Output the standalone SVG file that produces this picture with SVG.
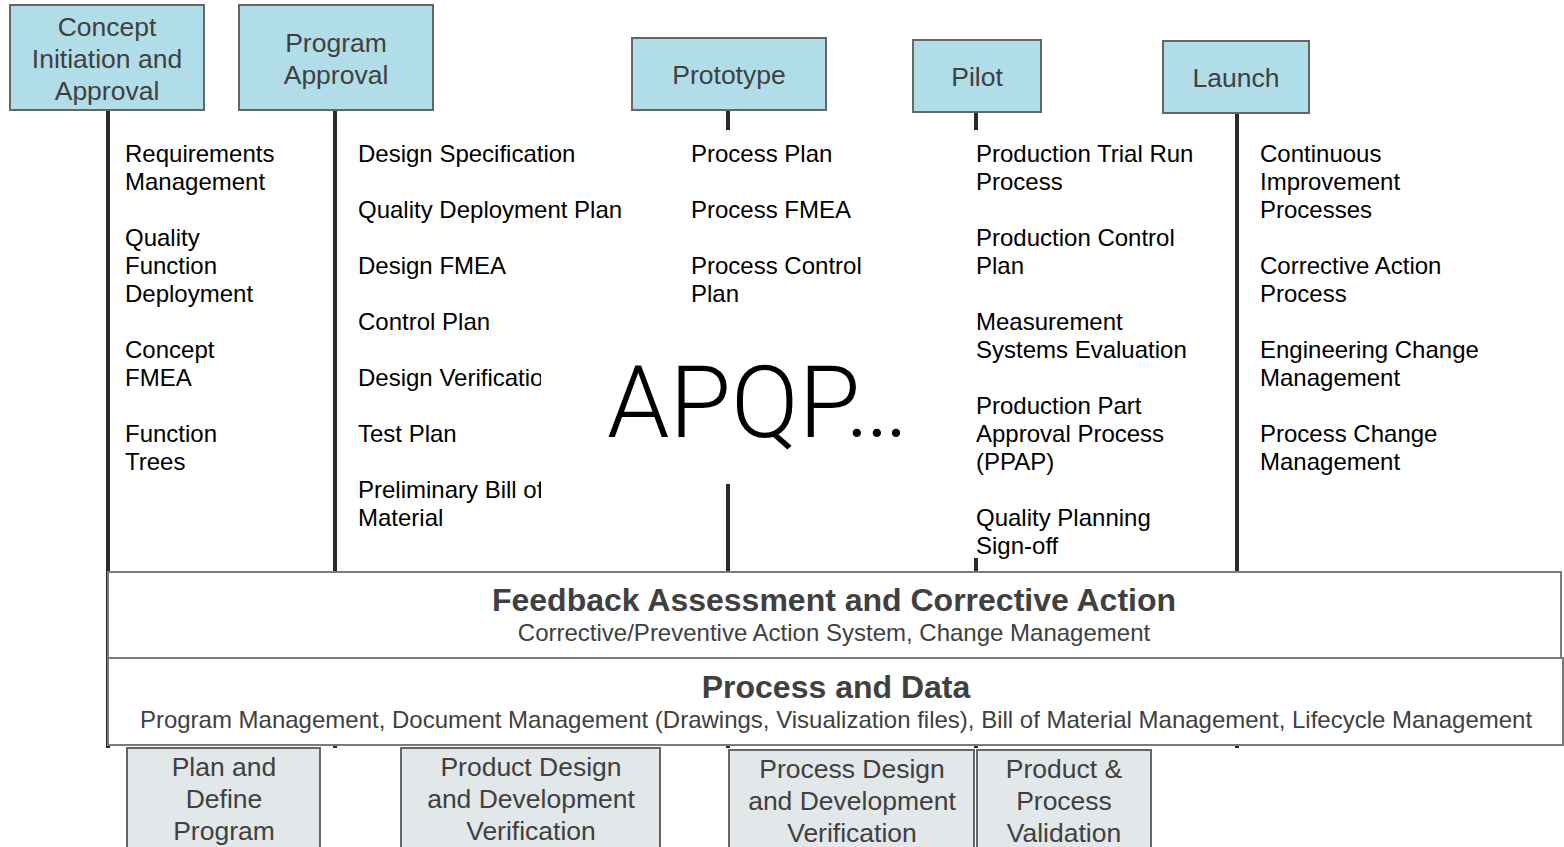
<svg xmlns="http://www.w3.org/2000/svg" width="1564" height="847" viewBox="0 0 1564 847">
<style>
.phase{fill:#b1dde9;stroke:#666;stroke-width:2}
.stage{fill:#e2e7ea;stroke:#666;stroke-width:2}
.band{fill:#fff;stroke:#7a7a7a;stroke-width:2}
.ht{font-family:"Liberation Sans",Arial,sans-serif;font-size:26.5px;fill:#404040;text-anchor:middle}
.it{font-family:"Liberation Sans",Arial,sans-serif;font-size:24px;fill:#000}
.bt{font-family:"Liberation Sans",Arial,sans-serif;font-size:32px;font-weight:bold;fill:#404040;text-anchor:middle}
.st{font-family:"Liberation Sans",Arial,sans-serif;font-size:24px;fill:#404040;text-anchor:middle}
.ln{stroke:#2a2a2a;stroke-width:4;fill:none}
</style>
<defs>
<clipPath id="c2"><rect x="340" y="130" width="400" height="220"/><rect x="340" y="350" width="201" height="200"/></clipPath>
</defs>
<rect width="1564" height="847" fill="#fff"/>
<g id="connectors">
<line class="ln" x1="108" y1="110" x2="108" y2="748"/>
<line class="ln" x1="335" y1="110" x2="335" y2="748"/>
<line class="ln" x1="728" y1="110" x2="728" y2="130"/>
<line class="ln" x1="728" y1="484" x2="728" y2="748"/>
<line class="ln" x1="976" y1="112" x2="976" y2="130"/>
<line class="ln" x1="976" y1="558" x2="976" y2="748"/>
<line class="ln" x1="1237" y1="113" x2="1237" y2="748"/>
</g>
<g id="concept">
<rect class="phase" x="10" y="5" width="194" height="105"/>
<text class="ht" x="107" y="36">Concept</text>
<text class="ht" x="107" y="68">Initiation and</text>
<text class="ht" x="107" y="100">Approval</text>
</g>
<g id="program">
<rect class="phase" x="239" y="5" width="194" height="105"/>
<text class="ht" x="336" y="52">Program</text>
<text class="ht" x="336" y="84">Approval</text>
</g>
<g id="prototype">
<rect class="phase" x="632" y="38" width="194" height="72"/>
<text class="ht" x="729" y="84">Prototype</text>
</g>
<g id="pilot">
<rect class="phase" x="913" y="40" width="128" height="72"/>
<text class="ht" x="977" y="86">Pilot</text>
</g>
<g id="launch">
<rect class="phase" x="1163" y="41" width="146" height="72"/>
<text class="ht" x="1236" y="87">Launch</text>
</g>
<g id="col1" class="it">
<text x="125" y="162">Requirements</text>
<text x="125" y="190">Management</text>
<text x="125" y="246">Quality</text>
<text x="125" y="274">Function</text>
<text x="125" y="302">Deployment</text>
<text x="125" y="358">Concept</text>
<text x="125" y="386">FMEA</text>
<text x="125" y="442">Function</text>
<text x="125" y="470">Trees</text>
</g>
<g id="col2" class="it" clip-path="url(#c2)">
<text x="358" y="162">Design Specification</text>
<text x="358" y="218">Quality Deployment Plan</text>
<text x="358" y="274">Design FMEA</text>
<text x="358" y="330">Control Plan</text>
<text x="358" y="386">Design Verification</text>
<text x="358" y="442">Test Plan</text>
<text x="358" y="498">Preliminary Bill of</text>
<text x="358" y="526">Material</text>
</g>
<g id="col3" class="it">
<text x="691" y="162">Process Plan</text>
<text x="691" y="218">Process FMEA</text>
<text x="691" y="274">Process Control</text>
<text x="691" y="302">Plan</text>
</g>
<g id="col4" class="it">
<text x="976" y="162">Production Trial Run</text>
<text x="976" y="190">Process</text>
<text x="976" y="246">Production Control</text>
<text x="976" y="274">Plan</text>
<text x="976" y="330">Measurement</text>
<text x="976" y="358">Systems Evaluation</text>
<text x="976" y="414">Production Part</text>
<text x="976" y="442">Approval Process</text>
<text x="976" y="470">(PPAP)</text>
<text x="976" y="526">Quality Planning</text>
<text x="976" y="554">Sign-off</text>
</g>
<g id="col5" class="it">
<text x="1260" y="162">Continuous</text>
<text x="1260" y="190">Improvement</text>
<text x="1260" y="218">Processes</text>
<text x="1260" y="274">Corrective Action</text>
<text x="1260" y="302">Process</text>
<text x="1260" y="358">Engineering Change</text>
<text x="1260" y="386">Management</text>
<text x="1260" y="442">Process Change</text>
<text x="1260" y="470">Management</text>
</g>
<g id="title">
<text x="607" y="437" font-family="Roboto,'Open Sans',sans-serif" font-weight="300" font-size="100" fill="#000">APQP…</text>
</g>
<g id="feedback">
<rect class="band" x="108" y="572" width="1453" height="86"/>
<text class="bt" x="834" y="611">Feedback Assessment and Corrective Action</text>
<text class="st" x="834" y="641">Corrective/Preventive Action System, Change Management</text>
</g>
<g id="processdata">
<rect class="band" x="108" y="658" width="1455" height="87"/>
<text class="bt" x="836" y="698">Process and Data</text>
<text class="st" x="836" y="728">Program Management, Document Management (Drawings, Visualization files), Bill of Material Management, Lifecycle Management</text>
</g>
<g id="plan">
<rect class="stage" x="127" y="748" width="193" height="110"/>
<text class="ht" x="224" y="776">Plan and</text>
<text class="ht" x="224" y="808">Define</text>
<text class="ht" x="224" y="840">Program</text>
</g>
<g id="productdesign">
<rect class="stage" x="401" y="748" width="259" height="110"/>
<text class="ht" x="531" y="776">Product Design</text>
<text class="ht" x="531" y="808">and Development</text>
<text class="ht" x="531" y="840">Verification</text>
</g>
<g id="processdesign">
<rect class="stage" x="729" y="750" width="245" height="110"/>
<text class="ht" x="852" y="778">Process Design</text>
<text class="ht" x="852" y="810">and Development</text>
<text class="ht" x="852" y="842">Verification</text>
</g>
<g id="validation">
<rect class="stage" x="977" y="750" width="174" height="110"/>
<text class="ht" x="1064" y="778">Product &amp;</text>
<text class="ht" x="1064" y="810">Process</text>
<text class="ht" x="1064" y="842">Validation</text>
</g>
</svg>
